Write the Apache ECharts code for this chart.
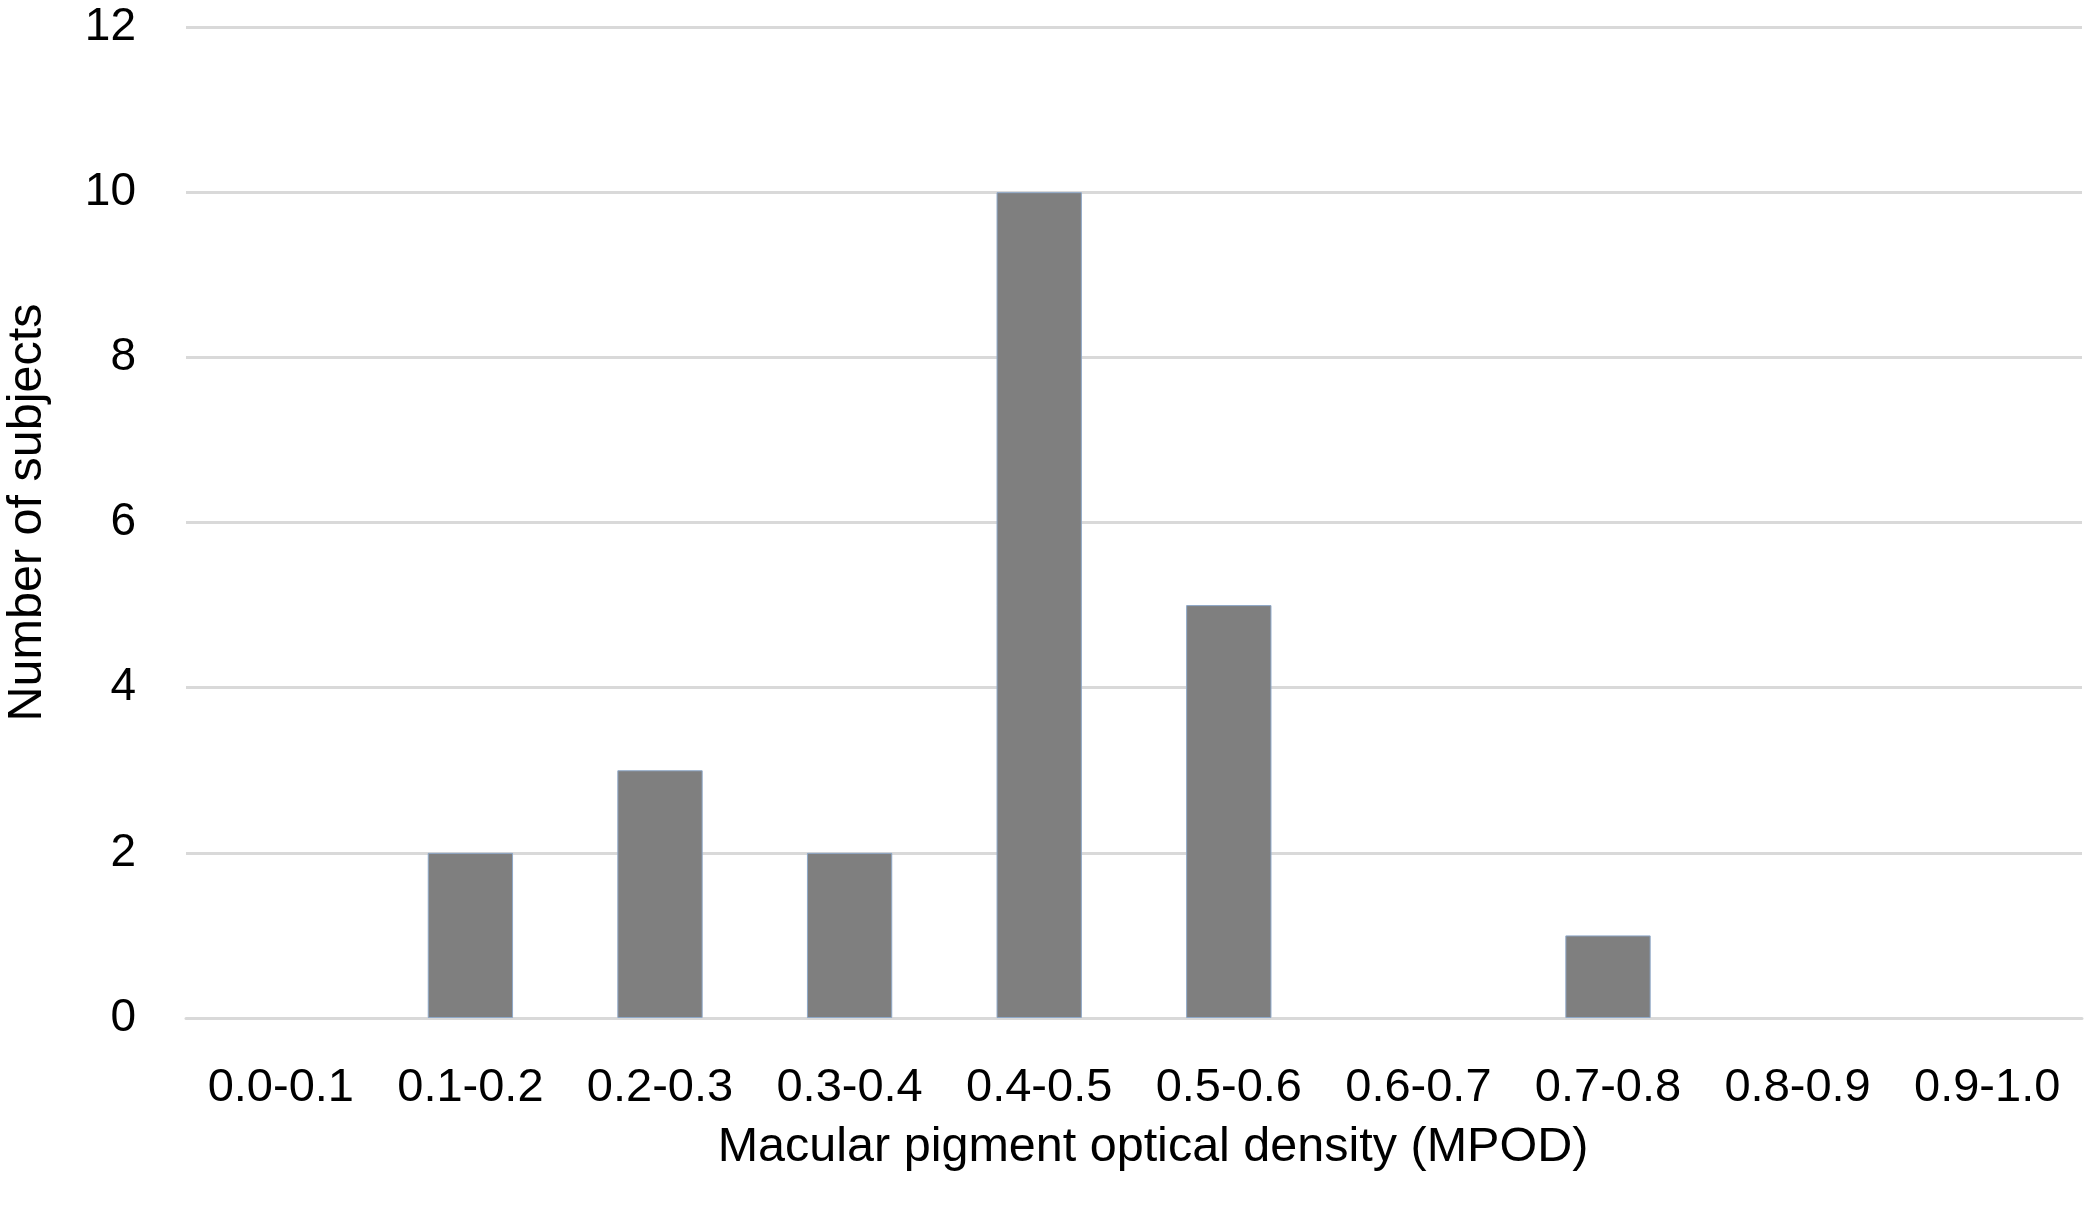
<!DOCTYPE html>
<html>
<head>
<meta charset="utf-8">
<script src="https://cdn.jsdelivr.net/npm/echarts@6/dist/echarts.min.js"></script>
<style>html,body{margin:0;padding:0;background:#fff;}#c{width:2086px;height:1211px;}</style>
</head>
<body>
<div id="c"></div>
<script>
const categories = ['0.0-0.1','0.1-0.2','0.2-0.3','0.3-0.4','0.4-0.5','0.5-0.6','0.6-0.7','0.7-0.8','0.8-0.9','0.9-1.0'];
const subjects = [0, 2, 3, 2, 10, 5, 0, 1, 0, 0];
const yTicks = [0, 2, 4, 6, 8, 10, 12];
const xTitle = 'Macular pigment optical density (MPOD)';
const yTitle = 'Number of subjects';

const FONT = '"Liberation Sans", Arial, Helvetica, sans-serif';
const chart = echarts.init(document.getElementById('c'), null, {renderer: 'canvas'});
chart.setOption({
  animation: false,
  backgroundColor: '#fff',
  grid: {left: 186, right: 4, top: 27, bottom: 193, containLabel: false, outerBoundsMode: 'none'},
  xAxis: {
    type: 'category',
    data: categories,
    axisTick: {show: false},
    axisLine: {show: true, lineStyle: {color: '#d9d9d9', width: 3}},
    axisLabel: {color: '#000', fontSize: 47, fontFamily: FONT, margin: 47, interval: 0},
    name: xTitle,
    nameLocation: 'middle',
    nameGap: 100,
    nameTextStyle: {color: '#000', fontSize: 48.5, fontFamily: FONT, padding: [5, 0, 0, 38]}
  },
  yAxis: {
    type: 'value',
    min: yTicks[0],
    max: yTicks[yTicks.length - 1],
    interval: 2,
    axisLine: {show: false},
    axisTick: {show: false},
    splitLine: {show: true, lineStyle: {color: '#d9d9d9', width: 3}},
    axisLabel: {color: '#000', fontSize: 46, fontFamily: FONT, margin: 50},
    name: yTitle,
    nameLocation: 'middle',
    nameGap: 134,
    nameRotate: 90,
    nameTextStyle: {color: '#000', fontSize: 48.5, fontFamily: FONT, padding: [0, 0, 0, 20]}
  },
  series: [{
    type: 'bar',
    data: subjects.map(v => ({value: v, itemStyle: v === 0 ? {borderWidth: 0} : {}})),
    barWidth: '45%',
    itemStyle: {color: '#7f7f7f', borderColor: '#8ea8c8', borderWidth: 1}
  }]
});
</script>
</body>
</html>
